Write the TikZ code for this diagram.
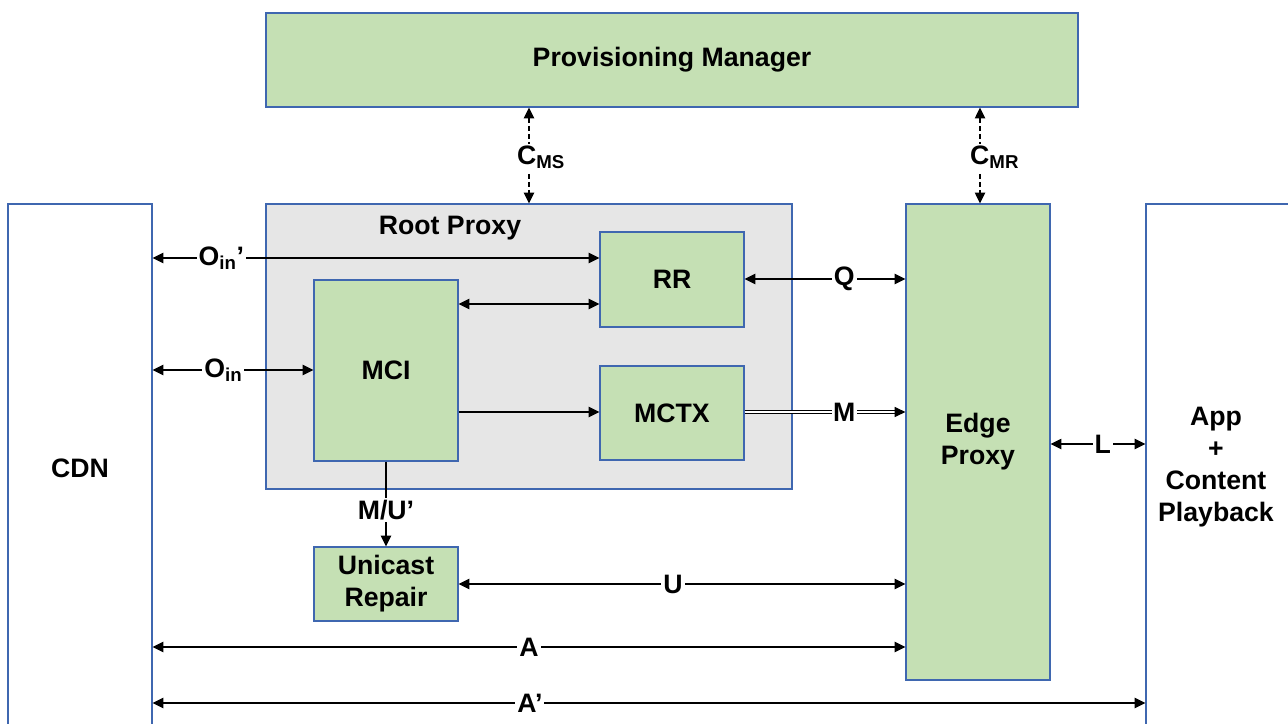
\documentclass[tikz,border=0pt]{standalone}
\usepackage{fontspec}
\setmainfont{Liberation Sans}
\usetikzlibrary{arrows.meta}
\definecolor{boxgreen}{HTML}{C5E0B4}
\definecolor{boxblue}{HTML}{3F67B0}
\definecolor{rootgray}{HTML}{E6E6E6}
\newcommand{\sub}[1]{\textsubscript{\bfseries #1}}
\begin{document}
\begin{tikzpicture}[x=0.75pt,y=-0.75pt,
  every node/.style={font=\fontsize{20}{24}\selectfont\bfseries, align=center},
  gbox/.style={draw=boxblue, fill=boxgreen, line width=0.9pt, inner sep=0pt},
  wbox/.style={draw=boxblue, fill=white, line width=0.9pt, inner sep=0pt},
  rbox/.style={draw=boxblue, fill=rootgray, line width=0.9pt, inner sep=0pt},
  tip/.style={Triangle[length=8pt,width=7.5pt]},
  conn/.style={line width=1.4pt, -{Triangle[length=8pt,width=7.5pt]}},
  bconn/.style={line width=1.4pt, {Triangle[length=8pt,width=7.5pt]}-{Triangle[length=8pt,width=7.5pt]}},
  dconn/.style={line width=1.4pt, dash pattern=on 4pt off 2pt, {Triangle[length=8pt,width=7.5pt]}-{Triangle[length=8pt,width=7.5pt]}},
  lbl/.style={fill=white, inner sep=1.5pt}]
\useasboundingbox (0,0) rectangle (1288,724);
% boxes
\node[gbox, minimum width=609pt, minimum height=70.5pt] (pm) at (672,60) {Provisioning Manager};
\node[wbox, minimum width=108pt, minimum height=396pt] (cdn) at (80,468) {CDN};
\node[rbox, minimum width=394.5pt, minimum height=213.75pt] (root) at (529,346.5) {};
\node (rootlbl) at (450,228) {Root Proxy};
\node[gbox, minimum width=108pt, minimum height=71.25pt] (rr) at (672,279.5) {RR};
\node[gbox, minimum width=108pt, minimum height=135.75pt] (mci) at (386,370.5) {MCI};
\node[gbox, minimum width=108pt, minimum height=70.5pt] (mctx) at (672,413) {MCTX};
\node[gbox, minimum width=108pt, minimum height=357pt] (edge) at (978,442) {Edge\\Proxy};
\node[wbox, minimum width=114pt, minimum height=396pt] (app) at (1222,468) {};
\node (applbl) at (1216,467) {App\\+\\Content\\Playback};
\node[gbox, minimum width=108pt, minimum height=55.5pt] (ur) at (386,584) {Unicast\\Repair};
% connectors
\draw[bconn] (cdn.east |- 0,258) -- node[lbl, pos=0.154] {O\sub{in}’} (rr.west |- 0,258);
\draw[bconn] (cdn.east |- 0,370) -- node[lbl, pos=0.44] {O\sub{in}} (mci.west |- 0,370);
\draw[bconn] (mci.east |- 0,304) -- (rr.west |- 0,304);
\draw[conn] (mci.east |- 0,412) -- (mctx.west |- 0,412);
\draw[bconn] (rr.east |- 0,279) -- node[lbl, pos=0.62] {Q} (edge.west |- 0,279);
\draw[line width=0.9pt, double, double distance=1pt, -{Triangle[length=8pt,width=7.5pt]}] (mctx.east |- 0,412) -- node[lbl, pos=0.62, inner sep=1pt] {M} (edge.west |- 0,412);
\draw[conn] (mci.south) -- node[lbl, pos=0.57] {M/U’} (ur.north);
\draw[bconn] (ur.east) -- node[lbl, pos=0.48] {U} (edge.west |- ur.east);
\draw[bconn] (cdn.east |- 0,647) -- node[lbl, pos=0.5] {A} (edge.west |- 0,647);
\draw[bconn] (cdn.east |- 0,703) -- node[lbl, pos=0.38] {A’} (app.west |- 0,703);
\draw[bconn] (edge.east |- 0,444) -- node[lbl, pos=0.55] {L} (app.west |- 0,444);
\draw[dconn] (pm.south -| 529,0) -- node[lbl, pos=0.52, xshift=9pt] {C\sub{MS}} (root.north -| 529,0);
\draw[dconn] (pm.south -| 980,0) -- node[lbl, pos=0.52, xshift=11pt] {C\sub{MR}} (edge.north -| 980,0);
\end{tikzpicture}
\end{document}
